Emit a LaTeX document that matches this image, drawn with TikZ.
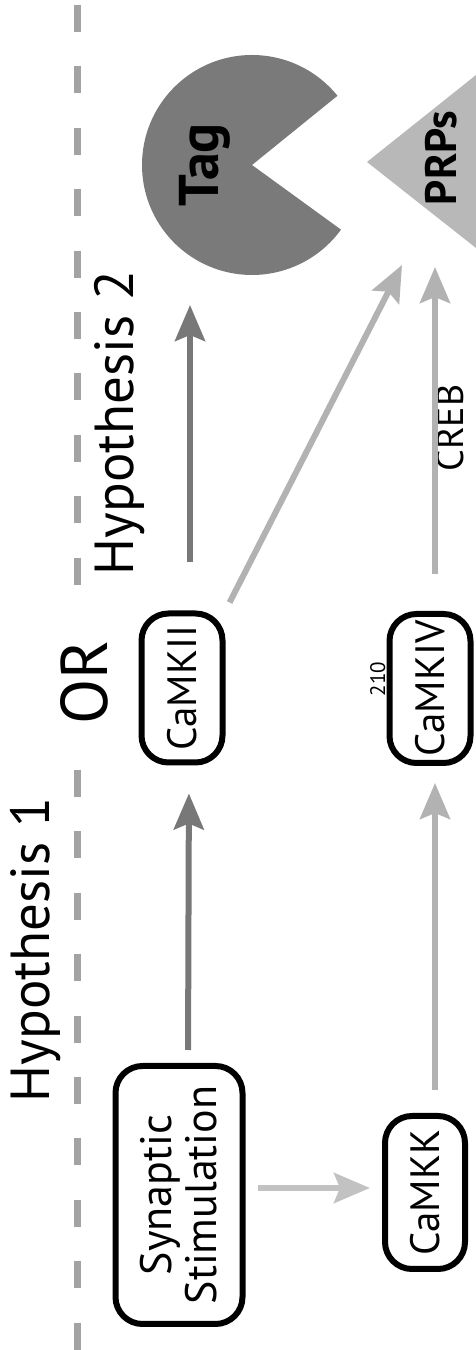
\documentclass[tikz,border=0pt]{standalone}
\usepackage{fontspec}
\setmainfont{PT Sans}
\usetikzlibrary{arrows.meta}

\newlength{\du}
\setlength{\du}{1pt}

\tikzset{
  kinase/.style={draw=black, line width=6\du, rounded corners=27\du, inner sep=0pt,
    minimum width=149\du, minimum height=81\du, font=\fontsize{41}{45}\selectfont},
  darkarrow/.style={draw=arrowdark, line width=6\du,
    -{Stealth[length=36pt, width=30pt, inset=6pt]}},
  lightarrow/.style={darkarrow, draw=arrowlight},
  divider/.style={draw=dashgray, line width=7\du, dash pattern=on 27\du off 34.4\du},
}

\begin{document}
\begin{tikzpicture}[rotate=90, transform shape]
\useasboundingbox (0,0) rectangle (1350\du,-476\du);
\definecolor{dashgray}{gray}{0.64}
\definecolor{arrowdark}{gray}{0.47}
\definecolor{arrowlight}{gray}{0.7}
\definecolor{tagfill}{gray}{0.48}
\definecolor{prpfill}{gray}{0.72}
% dashed divider, broken round the OR
\draw[divider] (1345\du,-77\du)--(762\du,-77\du);
\draw[divider] (580\du,-77\du)--(0\du,-77\du);
\node[anchor=base, font=\fontsize{55}{60}\selectfont] (hypone) at (400\du,-50\du){Hypothesis 1};
\node[anchor=base, font=\fontsize{55}{60}\selectfont] (hyptwo) at (927\du,-133\du){Hypothesis 2};
\node[anchor=base, font=\fontsize{66}{70}\selectfont] (or) at (668\du,-107\du){OR};
% kinases
\node[kinase, minimum width=258\du, minimum height=127\du, align=center,
  font=\fontsize{44}{45}\selectfont] (syn) at (155\du,-179\du){Synaptic\\Stimulation};
\node[kinase] (camkii) at (662\du,-182\du){CaMKII};
\node[kinase, minimum width=153\du, minimum height=80\du] (camkk) at (157.5\du,-425\du){CaMKK};
\node[kinase] (camkiv) at (661.5\du,-430\du){CaMKIV};
\node[anchor=base, font=\fontsize{21}{24}\selectfont] (site) at (671\du,-385\du){210};
% tag and PRPs
\fill[tagfill] (1185\du,-252\du)--++(-51:110\du) arc[start angle=-51, end angle=234, radius=110\du]--cycle;
\node[anchor=base, font=\bfseries\fontsize{56}{60}\selectfont] (tag) at (1185\du,-218\du){Tag};
\fill[prpfill] (1188\du,-367\du)--(1275\du,-476\du)--(1102\du,-476\du)--cycle;
\node[anchor=base, font=\bfseries\fontsize{44}{48}\selectfont] (prps) at (1192\du,-456\du){PRPs};
\node[anchor=base, inner sep=0pt, font=\fontsize{38}{42}\selectfont] (creb) at (922\du,-463\du){CREB};
\coordinate (tagin) at (1045\du,-190\du);
\coordinate (prpin) at (1083\du,-435\du);
\coordinate (prpdiag) at (1085\du,-402\du);
% arrows
\draw[darkarrow, shorten <=13\du, shorten >=28\du] ([yshift=-9\du]syn.east)--([yshift=-7\du]camkii.west);
\draw[darkarrow, shorten <=48\du] ([yshift=-8\du]camkii.east)--(tagin);
\draw[lightarrow, shorten <=9\du] (camkii.south east)--(prpdiag);
\draw[lightarrow, shorten <=37\du] ([yshift=-5\du]camkiv.east)--(prpin);
\draw[lightarrow, shorten <=23\du, shorten >=17\du] ([yshift=-10\du]camkk.east)--([yshift=-5\du]camkiv.west);
\draw[lightarrow, draw=arrowlight!80, shorten <=12\du, shorten >=12\du] ([xshift=7\du]syn.south)--([xshift=4.5\du]camkk.north);
\end{tikzpicture}
\end{document}
